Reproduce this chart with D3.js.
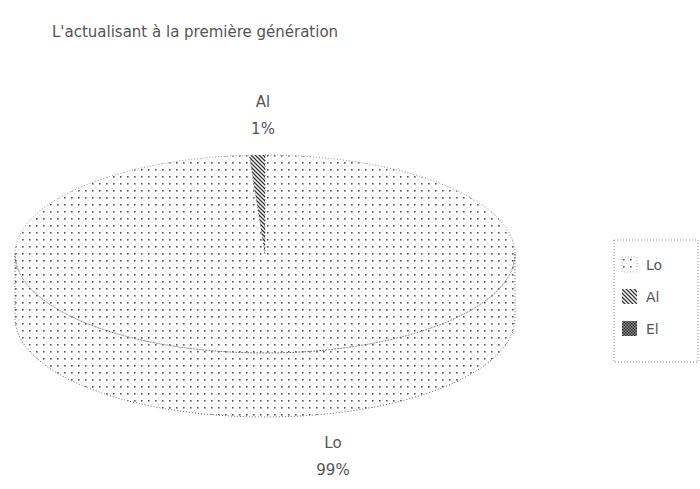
<!DOCTYPE html>
<html>
<head>
<meta charset="utf-8">
<script src="https://cdn.jsdelivr.net/npm/d3@7"></script>
<style>
  body { margin: 0; background: #fff; }
  text { font-family: "DejaVu Sans", sans-serif; fill: #555; }
</style>
</head>
<body>
<div id="chart"></div>
<script>
// data
const categories = ['Lo', 'Al', 'El'];
const values = [99, 1, 0];
const percentLabels = ['99%', '1%', '0%'];
const patterns = ['dots', 'hatch', 'checks'];

const width = 700, height = 489;
const cx = 265, cy = 254;   // centre of top face
const rx = 250, ry = 99;    // ellipse radii
const depth = 64;           // thickness of the disc

const svg = d3.select('#chart').append('svg')
  .attr('width', width)
  .attr('height', height);

// fill patterns
const defs = svg.append('defs');
const dots = defs.append('pattern').attr('id', 'dots')
  .attr('patternUnits', 'userSpaceOnUse').attr('width', 7).attr('height', 7);
dots.append('rect').attr('width', 1.6).attr('height', 1.6).attr('x', 1).attr('y', 1).attr('fill', '#555');
dots.append('rect').attr('width', 1).attr('height', 1).attr('x', 4.5).attr('y', 4.5).attr('fill', '#ccc');

const hatch = defs.append('pattern').attr('id', 'hatch')
  .attr('patternUnits', 'userSpaceOnUse').attr('width', 4).attr('height', 4);
hatch.append('path').attr('d', 'M-1,-1 L5,5 M-1,3 L1,5 M3,-1 L5,1')
  .attr('stroke', '#333').attr('stroke-width', 1.3);

const checks = defs.append('pattern').attr('id', 'checks')
  .attr('patternUnits', 'userSpaceOnUse').attr('width', 3).attr('height', 3);
checks.append('rect').attr('width', 3).attr('height', 3).attr('fill', '#999');
checks.append('rect').attr('width', 1.5).attr('height', 1.5).attr('fill', '#222');
checks.append('rect').attr('x', 1.5).attr('y', 1.5).attr('width', 1.5).attr('height', 1.5).attr('fill', '#222');

// title
svg.append('text')
  .attr('x', 52).attr('y', 37)
  .style('font-size', '15px')
  .text("L'actualisant à la première génération");

// pie angles (0 = 12 o'clock, clockwise)
const pie = d3.pie().sort(null).value(d => d);
const arcs = pie(values);

const px = a => cx + rx * Math.sin(a);
const py = a => cy - ry * Math.cos(a);

// side of the disc, only the front half (angles between PI/2 and 3PI/2) shows
function sidePath(a0, a1) {
  const s = Math.max(a0, Math.PI / 2), e = Math.min(a1, 3 * Math.PI / 2);
  if (e <= s) return null;
  const n = 60, pts = [];
  for (let i = 0; i <= n; i++) { const a = s + (e - s) * i / n; pts.push([px(a), py(a)]); }
  for (let i = n; i >= 0; i--) { const a = s + (e - s) * i / n; pts.push([px(a), py(a) + depth]); }
  return 'M' + pts.map(p => p.join(',')).join('L') + 'Z';
}

function topPath(a0, a1) {
  const large = (a1 - a0) > Math.PI ? 1 : 0;
  return `M${cx},${cy}L${px(a0)},${py(a0)}A${rx},${ry} 0 ${large} 1 ${px(a1)},${py(a1)}Z`;
}

const g = svg.append('g');

arcs.forEach((d, i) => {
  const p = sidePath(d.startAngle, d.endAngle);
  if (p) g.append('path').attr('d', p)
    .attr('fill', `url(#${patterns[i]})`)
    .attr('stroke', '#666').attr('stroke-width', 1).attr('stroke-dasharray', '1,2');
});

arcs.forEach((d, i) => {
  if (d.endAngle - d.startAngle <= 0) return;
  g.append('path').attr('d', topPath(d.startAngle, d.endAngle))
    .attr('fill', `url(#${patterns[i]})`)
    .attr('stroke', i === 0 ? '#888' : 'none').attr('stroke-width', 1).attr('stroke-dasharray', '1,2');
});

// outside labels
const labelPos = [[333, 448], [263, 107]];
arcs.forEach((d, i) => {
  if (values[i] === 0) return;
  const t = svg.append('text')
    .attr('text-anchor', 'middle')
    .style('font-size', '15px');
  t.append('tspan').attr('x', labelPos[i][0]).attr('y', labelPos[i][1]).text(categories[i]);
  t.append('tspan').attr('x', labelPos[i][0]).attr('y', labelPos[i][1] + 27).text(percentLabels[i]);
});

// legend
const legend = svg.append('g').attr('transform', 'translate(614,240)');
legend.append('rect')
  .attr('width', 84).attr('height', 122)
  .attr('fill', 'none').attr('stroke', '#888').attr('stroke-dasharray', '1,2');
const item = legend.selectAll('g.item').data(categories).enter().append('g')
  .attr('class', 'item')
  .attr('transform', (d, i) => `translate(8,${25 + i * 32})`);
item.append('rect')
  .attr('y', -8).attr('width', 15).attr('height', 15)
  .attr('fill', (d, i) => `url(#${patterns[i]})`)
  .attr('stroke', (d, i) => i === 0 ? '#aaa' : 'none').attr('stroke-dasharray', '1,2');
item.append('text')
  .attr('x', 24).attr('y', 5)
  .style('font-size', '14px')
  .text(d => d);
</script>
</body>
</html>
